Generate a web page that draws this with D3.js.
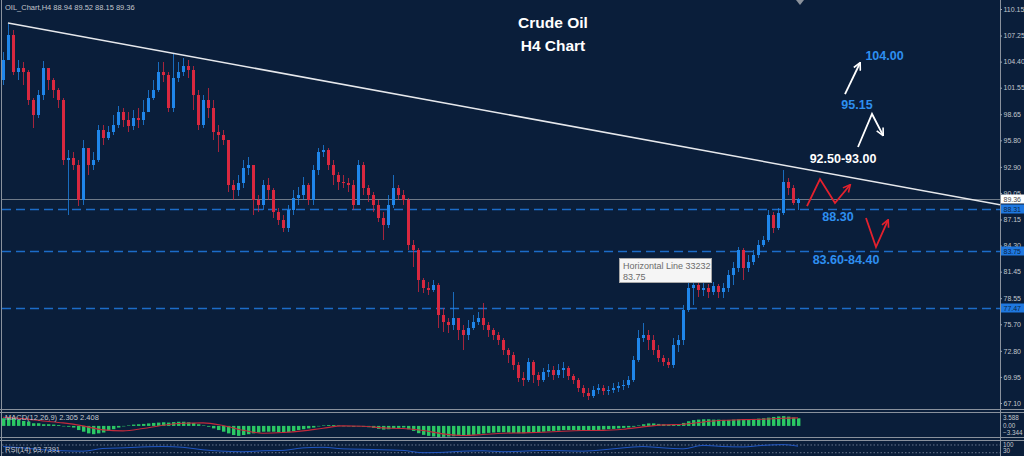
<!DOCTYPE html>
<html>
<head>
<meta charset="utf-8">
<script src="https://cdn.jsdelivr.net/npm/d3@7"></script>
<style type="text/css">
body {
	margin: 0;
	background: #0a1e3a;
}
svg {
	display: block;
}
text {
	font-family: "Liberation Sans", Arial, sans-serif;
}
.axis text, .small {
	fill: #c3c7cd;
	font-size: 7.5px;
}
.axis text {
	font-size: 7px;
}
.axis line {
	stroke: #9aa2ad;
}
.tiny {
	fill: #c3c7cd;
	font-size: 6.3px;
}
.note {
	font-size: 12.5px;
	font-weight: bold;
	text-anchor: middle;
	dominant-baseline: central;
}
</style>
</head>
<body>
<svg id="chart" width="1024" height="456"></svg>
<script type="text/javascript">
// ---- data (one entry per drawn bar) ----
var firstOpen = 102.39;
var closes = [
104.58,107.31,103.27,103.70,103.27,100.21,98.57,100.75,103.70,102.39,
101.30,100.21,93.65,93.87,93.10,89.28,94.96,93.10,93.65,96.93,
96.05,96.71,97.47,98.90,98.02,97.37,98.24,98.02,98.90,100.42,
101.30,103.27,102.94,99.33,102.61,103.27,103.92,103.48,100.75,97.47,
100.21,99.33,96.71,96.38,95.84,90.92,90.37,91.14,92.78,93.10,
89.28,88.73,90.92,90.37,87.97,87.09,86.22,88.19,89.50,89.83,
90.92,89.28,92.56,94.52,94.74,93.10,92.01,91.25,91.14,90.92,
88.73,93.10,90.59,89.83,88.73,87.31,86.55,88.73,90.59,89.83,
89.28,84.36,83.82,80.54,79.66,79.45,79.99,76.71,75.95,75.62,
76.39,75.07,74.53,75.29,75.95,76.39,75.62,75.07,74.53,73.98,
72.89,72.34,71.25,69.83,69.61,71.58,70.16,69.61,70.49,70.70,
70.16,70.70,70.92,70.05,69.61,68.74,68.19,67.86,68.52,68.74,
68.41,68.52,68.74,68.96,69.06,69.61,71.80,74.20,74.53,73.98,
72.89,72.01,71.58,71.25,73.44,73.98,77.26,79.66,79.99,79.45,
79.66,79.23,79.88,79.23,79.66,81.08,81.85,83.82,81.85,82.50,
83.27,84.36,84.91,87.64,86.22,87.86,91.25,90.59,88.94,89.36
];
var highs = [
105.45,108.51,107.86,104.58,104.36,103.48,100.42,101.30,104.47,103.48,
102.61,101.52,100.42,94.74,94.52,93.65,95.84,94.74,94.52,97.47,
97.47,97.37,98.57,99.55,99.33,98.90,99.11,99.33,100.21,101.30,
102.39,104.36,104.36,103.27,105.34,104.36,104.80,104.58,103.92,101.30,
100.75,101.52,100.21,97.47,96.93,92.78,91.46,92.01,93.65,93.98,
93.10,89.83,91.46,91.68,90.59,88.41,87.64,88.73,90.37,90.70,
91.79,91.14,93.10,94.96,95.29,94.96,93.65,92.34,92.01,91.68,
91.46,93.65,93.43,90.92,90.15,89.28,87.97,89.83,92.01,90.92,
90.37,89.50,84.91,84.03,80.76,80.32,80.54,80.21,77.48,76.39,
79.23,76.39,75.62,76.17,76.71,77.04,78.02,75.95,75.29,74.86,
74.20,73.11,72.67,71.58,70.49,72.01,71.80,70.49,70.92,71.36,
71.14,71.36,71.58,71.14,70.27,69.83,69.06,68.74,68.96,69.17,
69.06,68.96,69.28,69.39,69.61,70.05,72.23,75.07,75.84,75.07,
74.53,73.44,72.34,72.01,74.20,74.53,77.81,80.21,80.54,80.21,
80.32,80.10,80.32,80.10,80.21,81.63,82.50,84.14,84.03,83.27,
83.82,84.91,85.35,88.19,87.97,88.41,92.56,91.68,90.92,89.52
];
var lows = [
101.85,105.12,102.94,102.39,101.85,99.66,97.15,98.24,100.21,101.30,
100.42,99.33,93.10,87.64,92.56,88.62,88.73,92.01,92.56,93.43,
95.29,95.84,96.38,97.15,97.26,96.71,96.93,97.15,97.47,98.90,
100.21,101.08,102.17,98.90,98.90,102.17,102.83,102.61,99.11,96.93,
97.15,98.24,95.84,94.52,95.29,90.15,89.28,89.72,90.59,92.01,
87.64,87.97,88.19,89.28,87.31,86.55,85.78,85.78,87.64,88.73,
89.28,88.73,88.73,92.01,93.98,92.56,90.92,90.37,90.59,90.15,
88.19,88.73,89.83,89.06,87.97,86.88,84.91,86.22,88.41,89.28,
88.73,83.82,81.96,79.23,79.12,78.90,79.23,75.29,74.86,74.75,
75.07,73.98,72.89,73.98,75.07,75.62,75.07,74.31,73.98,73.44,
72.34,71.47,70.70,69.39,68.96,69.39,69.28,68.96,69.39,69.94,
69.61,69.83,69.83,69.61,69.17,68.30,67.75,67.43,67.64,68.08,
67.97,67.97,68.19,68.30,68.52,68.74,69.39,71.58,73.76,72.89,
72.34,71.58,71.14,70.92,70.92,72.67,73.44,77.04,77.81,78.68,
78.79,78.57,78.90,78.57,78.57,79.23,79.99,81.41,80.54,81.41,
82.18,82.94,84.14,84.69,85.67,86.00,87.64,89.83,88.73,88.15
];
var priceTicks = [110.15,107.25,104.40,101.55,98.65,95.80,92.90,90.05,87.15,84.30,81.45,78.55,75.70,72.80,69.95,67.10];
var levels = [88.31, 83.75, 77.47];
var lastPrice = 89.36;
var trendPoints = [[1, 108.62], [161.4, 92.56]];

var macdHist = [
2.3,2.5,2.3,1.8,1.5,1.3,0.8,0.8,0.5,0.5,
0.4,0.25,0.0,-0.25,-0.5,-1.25,-1.75,-2.25,-2.5,-2.25,
-2.0,-1.5,-1.0,-0.5,-0.15,0.15,0.4,0.5,0.6,0.75,
0.9,1.0,1.1,1.0,1.15,1.25,1.25,1.1,0.9,0.5,
0.15,-0.25,-0.75,-1.25,-1.75,-2.25,-2.75,-3.0,-2.75,-2.5,
-2.25,-2.0,-1.75,-1.75,-1.75,-1.9,-2.0,-1.9,-1.6,-1.25,
-1.0,-0.75,-0.5,-0.15,0.15,0.25,0.25,0.15,0.0,-0.15,
-0.25,-0.15,-0.25,-0.4,-0.6,-0.9,-1.1,-1.0,-0.75,-0.6,
-0.5,-1.0,-1.5,-2.2,-2.7,-3.0,-3.2,-3.34,-3.3,-3.2,
-3.1,-3.0,-2.9,-2.8,-2.7,-2.5,-2.3,-2.1,-2.0,-1.9,
-1.9,-2.0,-2.1,-2.2,-2.2,-2.1,-2.0,-1.9,-1.75,-1.6,
-1.5,-1.4,-1.25,-1.25,-1.25,-1.4,-1.5,-1.5,-1.4,-1.25,
-1.1,-1.0,-0.9,-0.75,-0.6,-0.5,-0.25,0.15,0.5,0.75,
0.75,0.6,0.5,0.4,0.4,0.5,0.9,1.4,1.75,1.9,
2.0,2.0,1.9,1.9,1.8,1.8,1.9,2.0,2.0,2.0,
2.1,2.2,2.3,2.5,2.7,2.85,2.95,2.8,2.55,2.305
];
// signal and rsi are read every 4th bar, plus the last bar
var sparseIdx = d3.range(0, 160, 4).concat([159]);
var macdSignal = [2.6,2.2,1.5,0.9,0.0,-1.2,-1.5,-0.8,0.2,0.8,0.9,0.1,-1.3,-2.2,-2.0,-1.5,-0.7,0.0,-0.1,-0.6,
	-0.8,-1.4,-2.4,-2.9,-2.6,-2.2,-2.1,-1.9,-1.6,-1.4,-1.35,-1.0,-0.3,0.3,0.5,1.2,1.7,1.9,2.0,2.3,2.408];
var rsiValues = [62,55,45,40,38,52,55,60,62,58,45,38,35,40,42,55,58,50,48,45,
	42,30,32,38,40,35,38,42,40,38,45,55,62,55,50,68,62,60,68,72,63.74];
var macdRange = [-3.344, 3.588];

// drawn objects (bar index, price)
var notes = [
	{text: "104.00", i: 176.3, p: 105.02, color: "#2e8ff0"},
	{text: "95.15", i: 170.8, p: 99.66, color: "#2e8ff0"},
	{text: "92.50-93.00", i: 168.0, p: 93.76, color: "#ffffff"},
	{text: "88.30", i: 167.0, p: 87.46, color: "#2e8ff0"},
	{text: "83.60-84.40", i: 168.6, p: 82.73, color: "#2e8ff0"}
];
var arrows = [
	{color: "#ffffff", pts: [[168.4, 100.86], [171.4, 104.25]]},
	{color: "#ffffff", pts: [[171.0, 95.07], [173.8, 98.68], [176.0, 96.36]]},
	{color: "#e4212d", pts: [[160.8, 88.62], [163.4, 91.57], [166.4, 88.95], [169.4, 90.92]]},
	{color: "#e4212d", pts: [[172.6, 87.31], [174.6, 84.14], [177.0, 87.09]]}
];

var W = 1024, H = 456, axisX = 1000;
var svg = d3.select("#chart");
svg.append("rect").attr("width", W).attr("height", H).attr("fill", "#0a1e3a");

var x = d3.scaleLinear().domain([0, 199.4]).range([3, axisX]);
var y = d3.scaleLinear().domain([67.10, 110.15]).range([403, 9]);
var yM = d3.scaleLinear().domain(macdRange).range([437, 414]);
var yR = d3.scaleLinear().domain([0, 100]).range([458.5, 439.2]);

var defs = svg.append("defs");
defs.append("clipPath").attr("id", "mainClip").append("rect")
	.attr("x", 2).attr("y", 1).attr("width", axisX - 2).attr("height", 407);
defs.append("clipPath").attr("id", "macdClip").append("rect")
	.attr("x", 2).attr("y", 413).attr("width", axisX - 2).attr("height", 24);
["#ffffff", "#e4212d"].forEach(function(c, k){
	defs.append("marker").attr("id", "head" + k)
		.attr("viewBox", "0 0 10 10").attr("refX", 8.5).attr("refY", 5)
		.attr("markerWidth", 9).attr("markerHeight", 9)
		.attr("markerUnits", "userSpaceOnUse").attr("orient", "auto")
		.append("path").attr("d", "M1,1 L9,5 L1,9")
		.attr("fill", "none").attr("stroke", c).attr("stroke-width", 1.8);
});

var main = svg.append("g").attr("clip-path", "url(#mainClip)");

// horizontal levels
main.selectAll("line.level").data(levels).enter().append("line")
	.attr("class", "level")
	.attr("x1", 2).attr("x2", axisX)
	.attr("y1", function(d){ return Math.round(y(d)) + 0.5; })
	.attr("y2", function(d){ return Math.round(y(d)) + 0.5; })
	.style("stroke", "#1c6cc8").style("stroke-width", 1.4)
	.style("stroke-dasharray", "9,5");
main.append("line")
	.attr("x1", 2).attr("x2", axisX)
	.attr("y1", Math.round(y(lastPrice)) + 0.5).attr("y2", Math.round(y(lastPrice)) + 0.5)
	.style("stroke", "#6f7a88").style("stroke-width", 1.2);

// candles
var bars = closes.map(function(c, i){
	var o = i == 0 ? firstOpen : closes[i - 1];
	return {i: i, o: o, c: c, h: Math.max(highs[i], o, c), l: Math.min(lows[i], o, c)};
});
var candle = main.append("g").selectAll("g").data(bars).enter().append("g")
	.style("shape-rendering", "crispEdges");
candle.append("line")
	.attr("x1", function(d){ return Math.round(x(d.i)) + 0.5; })
	.attr("x2", function(d){ return Math.round(x(d.i)) + 0.5; })
	.attr("y1", function(d){ return y(d.h); })
	.attr("y2", function(d){ return y(d.l); })
	.style("stroke", function(d){ return d.c >= d.o ? "#1f86ea" : "#d9283f"; })
	.style("opacity", 0.75);
candle.append("rect")
	.attr("x", function(d){ return Math.round(x(d.i)) - 1; })
	.attr("width", 3)
	.attr("y", function(d){ return y(Math.max(d.o, d.c)); })
	.attr("height", function(d){ return Math.max(1, Math.abs(y(d.o) - y(d.c))); })
	.style("fill", function(d){ return d.c >= d.o ? "#1f86ea" : "#d9283f"; });

// trendline, extended to the price axis
var tA = trendPoints[0], tB = trendPoints[1];
var tEnd = x.invert(axisX);
var pEnd = tA[1] + (tB[1] - tA[1]) * (tEnd - tA[0]) / (tB[0] - tA[0]);
main.append("line")
	.attr("x1", x(tA[0])).attr("y1", y(tA[1]))
	.attr("x2", x(tEnd)).attr("y2", y(pEnd))
	.style("stroke", "#e6e8ec").style("stroke-width", 1.6);

// hand drawn arrows
var arrowLine = d3.line().x(function(d){ return x(d[0]); }).y(function(d){ return y(d[1]); });
main.selectAll("path.arrow").data(arrows).enter().append("path")
	.attr("class", "arrow")
	.attr("d", function(d){ return arrowLine(d.pts); })
	.attr("fill", "none")
	.attr("stroke", function(d){ return d.color; })
	.attr("stroke-width", 1.8)
	.attr("stroke-linejoin", "miter")
	.attr("marker-end", function(d){ return d.color == "#ffffff" ? "url(#head0)" : "url(#head1)"; });

main.selectAll("text.note").data(notes).enter().append("text")
	.attr("class", "note")
	.attr("x", function(d){ return x(d.i); })
	.attr("y", function(d){ return y(d.p); })
	.style("fill", function(d){ return d.color; })
	.text(function(d){ return d.text; });

// title
svg.append("text").attr("x", 553).attr("y", 28).attr("text-anchor", "middle")
	.style("fill", "#fff").style("font-weight", "bold").style("font-size", "15.5px").text("Crude Oil");
svg.append("text").attr("x", 553).attr("y", 51).attr("text-anchor", "middle")
	.style("fill", "#fff").style("font-weight", "bold").style("font-size", "15.5px").text("H4 Chart");

// tooltip of the horizontal line object
var tip = svg.append("g").attr("transform", "translate(619,258)");
tip.append("rect").attr("x", 0.5).attr("y", 0.5).attr("width", 92).attr("height", 24)
	.style("fill", "#f5f5f5").style("stroke", "#a8a8a8");
tip.append("text").attr("x", 4).attr("y", 10.5).style("fill", "#6b6b6b").style("font-size", "9px")
	.text("Horizontal Line 33232");
tip.append("text").attr("x", 4).attr("y", 21.5).style("fill", "#6b6b6b").style("font-size", "9px")
	.text("83.75");

// header
svg.append("text").attr("class", "small").attr("x", 5).attr("y", 10)
	.text("OIL_Chart,H4  88.94 89.52 88.15 89.36");
svg.append("path").attr("d", "M796,0 L804,0 L800,5 Z").style("fill", "#8c939d");

// ---- MACD window ----
var macdG = svg.append("g").attr("clip-path", "url(#macdClip)");
macdG.selectAll("rect").data(macdHist).enter().append("rect")
	.attr("x", function(d, i){ return Math.round(x(i)) - 1; })
	.attr("width", 3.4)
	.attr("y", function(d){ return Math.min(yM(d), yM(0)); })
	.attr("height", function(d){ return Math.max(0.5, Math.abs(yM(d) - yM(0))); })
	.style("fill", "#2bc864");
macdG.append("path")
	.datum(macdSignal)
	.attr("d", d3.line().x(function(d, k){ return x(sparseIdx[k]); }).y(function(d){ return yM(d); }).curve(d3.curveMonotoneX))
	.attr("fill", "none").attr("stroke", "#c42a3c").attr("stroke-width", 1.1);
svg.append("text").attr("class", "small").attr("x", 5).attr("y", 420)
	.text("MACD(12,26,9) 2.305 2.408");

// ---- RSI window ----
var rsiG = svg.append("g");
[70, 30].forEach(function(v){
	rsiG.append("line").attr("x1", 2).attr("x2", axisX)
		.attr("y1", yR(v)).attr("y2", yR(v))
		.style("stroke", "#7d8aa0").style("stroke-width", 0.8).style("stroke-dasharray", "1.5,2");
});
rsiG.append("path").datum(rsiValues)
	.attr("d", d3.line().x(function(d, k){ return x(sparseIdx[k]); }).y(function(d){ return yR(d); }).curve(d3.curveMonotoneX))
	.attr("fill", "none").attr("stroke", "#2157c4").attr("stroke-width", 1);
svg.append("text").attr("class", "small").attr("x", 5).attr("y", 452)
	.text("RSI(14) 63.7391");

// ---- frame and separators ----
var frame = svg.append("g").style("stroke", "#8a929d").style("shape-rendering", "crispEdges");
frame.append("line").attr("x1", 1.5).attr("x2", 1.5).attr("y1", 0).attr("y2", H);
frame.append("line").attr("x1", axisX + 0.5).attr("x2", axisX + 0.5).attr("y1", 0).attr("y2", H);
[409.5, 412.5, 437.5, 440.5].forEach(function(v){
	frame.append("line").attr("x1", 0).attr("x2", W).attr("y1", v).attr("y2", v);
});

// ---- price axis ----
var axis = svg.append("g").attr("class", "axis")
	.attr("transform", "translate(" + axisX + ",0)")
	.call(d3.axisRight(y).tickValues(priceTicks).tickSize(2).tickPadding(1.5).tickFormat(d3.format(".2f")));
axis.select(".domain").remove();

// labels of the level lines and the bid price
var tags = levels.map(function(v){ return {v: v, bg: "#1f78e0", fg: "#0c2544"}; });
tags.unshift({v: lastPrice, bg: "#ffffff", fg: "#4a4a4a"});
var tag = svg.append("g").selectAll("g").data(tags).enter().append("g")
	.attr("transform", function(d){ return "translate(" + (axisX + 1) + "," + Math.round(y(d.v)) + ")"; });
tag.append("rect").attr("x", 0).attr("y", -4.5).attr("width", 23).attr("height", 9)
	.style("fill", function(d){ return d.bg; });
tag.append("text").attr("x", 2.5).attr("y", 2.7).style("font-size", "7px")
	.style("fill", function(d){ return d.fg; })
	.text(function(d){ return d3.format(".2f")(d.v); });

// indicator scales
var macdLabels = [[macdRange[1], 4], [0, -0.5], [macdRange[0], -4.5]];
svg.selectAll("text.mlab").data(macdLabels).enter().append("text")
	.attr("class", "tiny mlab").attr("x", axisX + 3)
	.attr("y", function(d){ return yM(d[0]) + d[1] + 2.2; })
	.text(function(d){ return d[0] == 0 ? "0.00" : d3.format(".3f")(d[0]); });
svg.append("text").attr("class", "tiny").attr("x", axisX + 3).attr("y", yR(100) + 7.5).text("100");
svg.append("text").attr("class", "tiny").attr("x", axisX + 3).attr("y", yR(30) + 0.5).text("30");
</script>
</body>
</html>
